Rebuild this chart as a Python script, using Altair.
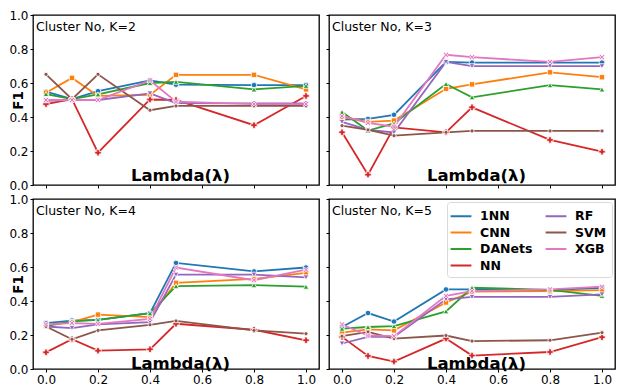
import altair as alt
import pandas as pd

lambdas = [0.0, 0.1, 0.2, 0.4, 0.5, 0.8, 1.0]
methods = ["1NN", "CNN", "DANets", "NN", "RF", "SVM", "XGB"]
method_colors = ["#1f77b4", "#ff7f0e", "#2ca02c", "#d62728", "#9467bd", "#8c564b", "#e377c2"]
x_ticks = [0.0, 0.2, 0.4, 0.6, 0.8, 1.0]
y_ticks = [0.0, 0.2, 0.4, 0.6, 0.8, 1.0]

f1_k2 = {
    "1NN":    [0.549, 0.505, 0.552, 0.615, 0.590, 0.588, 0.588],
    "CNN":    [0.543, 0.630, 0.524, 0.530, 0.648, 0.648, 0.562],
    "DANets": [0.535, 0.505, 0.533, 0.600, 0.607, 0.562, 0.583],
    "NN":     [0.476, 0.505, 0.190, 0.503, 0.500, 0.352, 0.524],
    "RF":     [0.495, 0.500, 0.500, 0.539, 0.482, 0.480, 0.480],
    "SVM":    [0.651, 0.505, 0.651, 0.440, 0.465, 0.465, 0.465],
    "XGB":    [0.500, 0.500, 0.500, 0.615, 0.490, 0.476, 0.476],
}
f1_k3 = {
    "1NN":    [0.385, 0.389, 0.413, 0.724, 0.720, 0.720, 0.720],
    "CNN":    [0.400, 0.371, 0.379, 0.566, 0.592, 0.663, 0.634],
    "DANets": [0.429, 0.320, 0.362, 0.594, 0.516, 0.587, 0.562],
    "NN":     [0.310, 0.061, 0.339, 0.310, 0.457, 0.265, 0.196],
    "RF":     [0.371, 0.324, 0.309, 0.724, 0.699, 0.699, 0.699],
    "SVM":    [0.349, 0.324, 0.290, 0.310, 0.318, 0.318, 0.318],
    "XGB":    [0.406, 0.366, 0.343, 0.766, 0.752, 0.724, 0.752],
}
f1_k4 = {
    "1NN":    [0.270, 0.285, 0.289, 0.328, 0.624, 0.574, 0.597],
    "CNN":    [0.260, 0.276, 0.320, 0.305, 0.507, 0.530, 0.566],
    "DANets": [0.252, 0.280, 0.289, 0.328, 0.487, 0.493, 0.484],
    "NN":     [0.098, 0.175, 0.108, 0.116, 0.266, 0.231, 0.169],
    "RF":     [0.250, 0.241, 0.262, 0.276, 0.555, 0.555, 0.539],
    "SVM":    [0.250, 0.175, 0.227, 0.260, 0.283, 0.227, 0.208],
    "XGB":    [0.262, 0.270, 0.266, 0.295, 0.597, 0.522, 0.584],
}
f1_k5 = {
    "1NN":    [0.247, 0.329, 0.279, 0.468, 0.468, 0.464, 0.478],
    "CNN":    [0.214, 0.233, 0.227, 0.391, 0.455, 0.458, 0.464],
    "DANets": [0.237, 0.247, 0.252, 0.339, 0.478, 0.466, 0.430],
    "NN":     [0.189, 0.077, 0.044, 0.179, 0.079, 0.100, 0.187],
    "RF":     [0.150, 0.189, 0.189, 0.410, 0.424, 0.424, 0.439],
    "SVM":    [0.193, 0.218, 0.179, 0.197, 0.164, 0.169, 0.214],
    "XGB":    [0.262, 0.197, 0.193, 0.430, 0.458, 0.468, 0.484],
}

x_shape = "M-1,-0.6L-0.6,-1L0,-0.4L0.6,-1L1,-0.6L0.4,0L1,0.6L0.6,1L0,0.4L-0.6,1L-1,0.6L-0.4,0Z"
marker_shapes = ["circle", "square", "triangle-up", "cross", "triangle-down", "circle", x_shape]
marker_sizes = [30, 28, 32, 42, 32, 16, 30]
legend_line = "M-1.3,0H1.3"

FONT = "DejaVu Sans"
W, H = 286, 170


def long_table(series):
    rows = []
    for m in methods:
        for lam, v in zip(lambdas, series[m]):
            rows.append({"lam": lam, "f1": v, "method": m})
    return pd.DataFrame(rows)


def panel(k, series, bottom, left, legend):
    df = long_table(series)
    xaxis = alt.Axis(values=x_ticks, format=".1f", labels=bottom, title="Lambda(λ)",
                     titleFont=FONT, titleFontSize=16.5, titleFontWeight="bold", titleColor="black",
                     titleX=W / 2 + 4, titleY=-1 if bottom else -5,
                     titleAlign="center", titleBaseline="alphabetic")
    if left:
        yaxis = alt.Axis(values=y_ticks, format=".1f", title="F1",
                         titleFont=FONT, titleFontSize=13.5, titleFontWeight="bold", titleColor="black",
                         titleX=-15, titleY=H / 2, titleAngle=270,
                         titleAlign="center", titleBaseline="middle")
    else:
        yaxis = alt.Axis(values=y_ticks, labels=False, title=None)
    x = alt.X("lam:Q", scale=alt.Scale(domain=[-0.05, 1.05], nice=False, zero=False), axis=xaxis)
    y = alt.Y("f1:Q", scale=alt.Scale(domain=[0, 1], nice=False, zero=False), axis=yaxis)

    if legend:
        leg = alt.Legend(title=None, orient="top-right", offset=3, columns=2,
                         symbolType=legend_line, symbolSize=256, symbolStrokeWidth=2,
                         labelFont=FONT, labelFontSize=12.5, labelFontWeight="bold", labelColor="black",
                         labelOffset=10, rowPadding=0.5, columnPadding=8, padding=5,
                         fillColor="white", strokeColor="#d9d9d9", cornerRadius=3)
    else:
        leg = None

    lines = alt.Chart(df).mark_line(strokeWidth=1.8).encode(
        x=x, y=y,
        color=alt.Color("method:N", scale=alt.Scale(domain=methods, range=method_colors), legend=leg),
    )
    point_layers = []
    for m, c, s, sz in zip(methods, method_colors, marker_shapes, marker_sizes):
        point_layers.append(
            alt.Chart(df[df["method"] == m]).mark_point(
                filled=True, shape=s, size=sz, fill=c, stroke="white", strokeWidth=0.8, opacity=1
            ).encode(x=x, y=y)
        )
    label = alt.Chart(pd.DataFrame({"label": [f"Cluster No, K={k}"]})).mark_text(
        align="left", baseline="middle", font=FONT, fontSize=12.5, color="black"
    ).encode(x=alt.value(3), y=alt.value(12), text="label:N")
    return alt.layer(lines, *point_layers, label).properties(width=W, height=H)


p2 = panel(2, f1_k2, bottom=False, left=True, legend=False)
p3 = panel(3, f1_k3, bottom=False, left=False, legend=False)
p4 = panel(4, f1_k4, bottom=True, left=True, legend=False)
p5 = panel(5, f1_k5, bottom=True, left=False, legend=True)

chart = alt.concat(
    p2, p3, p4, p5, columns=2, spacing={"row": 14, "column": 10}, bounds="flush"
).resolve_scale(
    color="independent"
).resolve_legend(
    color="independent"
).properties(
    padding=0
).configure_view(
    stroke="black", strokeWidth=1.3
).configure_axis(
    grid=False, domain=False, tickColor="black", tickSize=3, tickWidth=1,
    labelColor="black", labelFont=FONT, labelFontSize=12, labelPadding=2,
    titleFont=FONT, titleColor="black"
)

chart.save("out.html", embed_options={"renderer": "svg", "actions": False})
